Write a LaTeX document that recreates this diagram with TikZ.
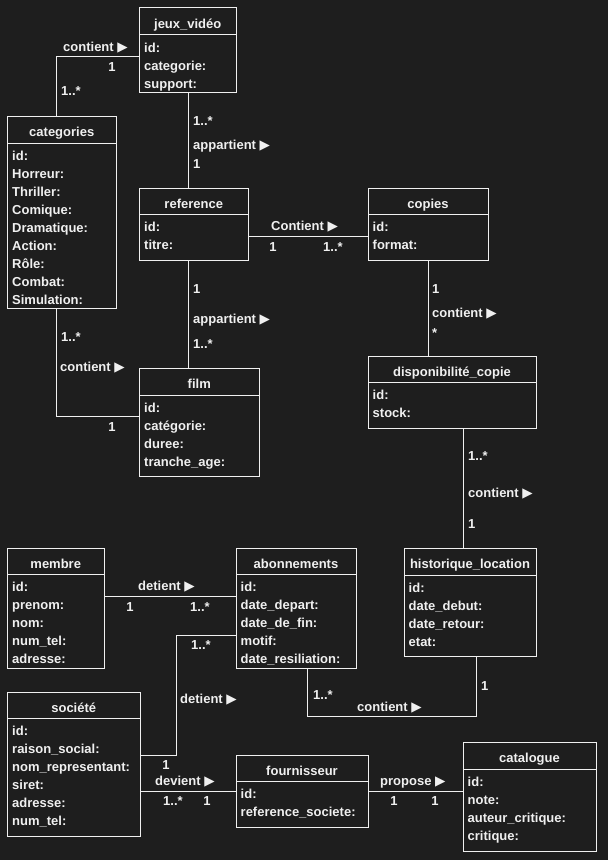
\documentclass[tikz,border=0pt]{standalone}
\usepackage{fontspec}
\setmainfont{Liberation Sans}
\newfontfamily\symf{DejaVu Sans}
\newcommand\tri{{\symf\fontsize{13.5}{15}\selectfont ▶}}
\definecolor{bg}{HTML}{1E1E1E}
\definecolor{fg}{HTML}{F0F0F0}
\newcommand\umlcls[8]{%
  \node[clsbox, minimum width=#4pt, minimum height=#5pt] (#1) at (#2,#3) {};
  \draw[conn] ([yshift=-#6pt]#1.north west) -- ([yshift=-#6pt]#1.north east);
  \pgfmathsetmacro\hy{#6/2+7}%
  \node[txt, anchor=base] (#1-t) at ([yshift=-\hy pt]#1.north) {#7};
  \foreach \r [count=\i] in {#8} {%
    \pgfmathsetmacro\yy{#6+17.5+18*(\i-1)}%
    \node[txt, anchor=base west] (#1-\i) at ([xshift=4.5pt,yshift=-\yy pt]#1.north west) {\r};
  }%
}
\begin{document}
\begin{tikzpicture}[x=1pt,y=-1pt,
  clsbox/.style={draw=fg, line width=1pt, rectangle, inner sep=0pt, outer sep=0pt, anchor=north west},
  conn/.style={draw=fg, line width=1pt},
  txt/.style={text=fg, inner sep=0pt, font=\fontsize{13}{15}\selectfont\bfseries},
  lbl/.style={txt, anchor=base west},
  lblc/.style={txt, anchor=base}]
\fill[bg] (0,0) rectangle (608,860);
\useasboundingbox (0,0) rectangle (608,860);

\umlcls{jeux}{139.5}{7.5}{96.5}{84.5}{27}{jeux\_vidéo}{id:,categorie:,support:}
\umlcls{categories}{7.5}{116}{108.5}{192}{27}{categories}{id:,Horreur:,Thriller:,Comique:,Dramatique:,Action:,Rôle:,Combat:,Simulation:}
\umlcls{reference}{139.5}{188}{108.5}{72}{26}{reference}{id:,titre:}
\umlcls{copies}{368}{188}{120}{72}{26}{copies}{id:,format:}
\umlcls{film}{139.5}{368}{119.5}{108}{27}{film}{id:,catégorie:,duree:,tranche\_age:}
\umlcls{dispo}{368}{356}{168}{72}{26}{disponibilité\_copie}{id:,stock:}
\umlcls{membre}{7.5}{548}{96.5}{120}{26}{membre}{id:,prenom:,nom:,num\_tel:,adresse:}
\umlcls{abon}{236}{548}{120}{120}{26}{abonnements}{id:,date\_depart:,date\_de\_fin:,motif:,date\_resiliation:}
\umlcls{hist}{404}{548}{132}{108}{27}{historique\_location}{id:,date\_debut:,date\_retour:,etat:}
\umlcls{societe}{7.5}{692}{132.5}{144}{26}{société}{id:,raison\_social:,nom\_representant:,siret:,adresse:,num\_tel:}
\umlcls{fourn}{236}{755}{132}{72}{26}{fournisseur}{id:,reference\_societe:}
\umlcls{catalogue}{463}{742}{133}{109}{27}{catalogue}{id:,note:,auteur\_critique:,critique:}

% connectors
\draw[conn] ([yshift=-48.5pt]jeux.north west) -| ([xshift=48.5pt]categories.north west);
\draw[conn] ([xshift=48.5pt]jeux.south west) -- ([xshift=48.5pt]reference.north west);
\draw[conn] ([yshift=-48pt]reference.north east) -- ([yshift=-48pt]copies.north west);
\draw[conn] ([xshift=48.5pt]reference.south west) -- ([xshift=48.5pt]film.north west);
\draw[conn] ([xshift=48.5pt]categories.south west) |- ([yshift=-48pt]film.north west);
\draw[conn] ([xshift=60pt]copies.south west) -- ([xshift=60pt]dispo.north west);
\draw[conn] ([xshift=95pt]dispo.south west) -- ([xshift=59pt]hist.north west);
\draw[conn] ([yshift=-48pt]membre.north east) -- ([yshift=-48pt]abon.north west);
\draw[conn] ([yshift=-63pt]societe.north east) -| ([xshift=-60pt,yshift=-87pt]abon.north west) -- ([yshift=-87pt]abon.north west);
\draw[conn] ([xshift=72pt]hist.south west) -- ([xshift=72pt,yshift=-60pt]hist.south west) -| ([xshift=71pt]abon.south west);
\draw[conn] ([yshift=-99pt]societe.north east) -- ([yshift=-36pt]fourn.north west);
\draw[conn] ([yshift=-36pt]fourn.north east) -- ([yshift=-49pt]catalogue.north west);

% labels
\node[lbl] (l1a) at (63,51) {contient \tri};
\node[lblc] (l1b) at (112,71) {1};
\node[lbl] (l1c) at (61,95) {1..*};

\node[lbl] (l2a) at (193,125) {1..*};
\node[lbl] (l2b) at (193,149) {appartient \tri};
\node[lbl] (l2c) at (193,168) {1};

\node[lbl] (l3a) at (271,230) {Contient \tri};
\node[lblc] (l3b) at (273,251) {1};
\node[lbl] (l3c) at (323,251) {1..*};

\node[lbl] (l4a) at (193,293) {1};
\node[lbl] (l4b) at (193,323) {appartient \tri};
\node[lbl] (l4c) at (193,348) {1..*};

\node[lbl] (l5a) at (61,341) {1..*};
\node[lbl] (l5b) at (60,371) {contient \tri};
\node[lblc] (l5c) at (112,431) {1};

\node[lbl] (l6a) at (432,293) {1};
\node[lbl] (l6b) at (432,317) {contient \tri};
\node[lbl] (l6c) at (432,337) {*};

\node[lbl] (l7a) at (468,460) {1..*};
\node[lbl] (l7b) at (468,497) {contient \tri};
\node[lbl] (l7c) at (468,528) {1};

\node[lbl] (l8a) at (138,590) {detient \tri};
\node[lblc] (l8b) at (130,611) {1};
\node[lbl] (l8c) at (190,611) {1..*};

\node[lbl] (l9a) at (191,649) {1..*};
\node[lbl] (l9b) at (180,703) {detient \tri};
\node[lblc] (l9c) at (166,769) {1};

\node[lbl] (l10a) at (481,690) {1};
\node[lbl] (l10b) at (313,699) {1..*};
\node[lbl] (l10c) at (357,711) {contient \tri};

\node[lbl] (l11a) at (155,785) {devient \tri};
\node[lbl] (l11b) at (163,805) {1..*};
\node[lblc] (l11c) at (207,805) {1};

\node[lbl] (l12a) at (380,785) {propose \tri};
\node[lblc] (l12b) at (394,805) {1};
\node[lblc] (l12c) at (435,805) {1};
\end{tikzpicture}
\end{document}
